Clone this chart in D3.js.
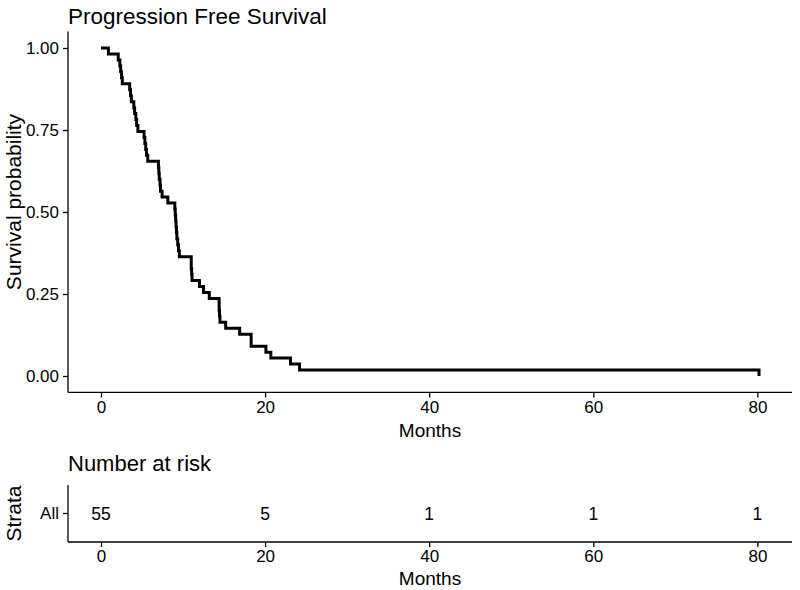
<!DOCTYPE html>
<html>
<head>
<meta charset="utf-8">
<script src="https://cdn.jsdelivr.net/npm/d3@7"></script>
<style>
  html, body { margin: 0; padding: 0; background: #fff; }
  svg { display: block; }
  text { font-family: "Liberation Sans", Arial, Helvetica, sans-serif; fill: #000; }
</style>
</head>
<body>
<svg id="chart" width="800" height="590"></svg>
<script>
// ---- data ----
const nSubjects = 55;
// event times (months); ties are repeated
const eventTimes = [
  0.9,
  2.1, 2.3, 2.4, 2.5, 2.6,
  3.5, 3.6, 3.7,
  4.0, 4.1, 4.25, 4.35, 4.5,
  5.25, 5.35, 5.45, 5.55, 5.7,
  7.0, 7.05, 7.1, 7.2, 7.25,
  7.45, 8.15,
  9.0, 9.05, 9.1, 9.15, 9.2, 9.25, 9.35, 9.45, 9.55,
  11.0, 11.0, 11.05, 11.1,
  12.0, 12.5, 13.2,
  14.4, 14.4, 14.45, 14.5,
  15.2, 16.9, 18.3, 18.3,
  20.1, 20.7, 23.1, 24.2,
  80.2
];
const xTicks = [0, 20, 40, 60, 80];
const yTicks = [0, 0.25, 0.5, 0.75, 1];
const yTickLabels = ["0.00", "0.25", "0.50", "0.75", "1.00"];
const riskTimes = [0, 20, 40, 60, 80];
const riskCounts = [55, 5, 1, 1, 1];
const strata = ["All"];

// ---- build KM step points ----
const grouped = d3.rollups(eventTimes, v => v.length, d => d).sort((a, b) => a[0] - b[0]);
let atRisk = nSubjects;
const km = [{t: 0, s: 1}];
grouped.forEach(([t, d]) => { atRisk -= d; km.push({t: t, s: atRisk / nSubjects}); });

const svg = d3.select("#chart");
const panelL = 68, panelR = 792;
const tickColor = "#111";

// ---- main panel ----
const x = d3.scaleLinear().domain([-4.02, 84.22]).range([panelL, panelR]);
const y = d3.scaleLinear().domain([-0.05, 1.05]).range([392.4, 31.6]);

svg.append("text").attr("x", panelL).attr("y", 24).attr("font-size", 22.5).text("Progression Free Survival");

const line = d3.line().x(d => x(d.t)).y(d => y(d.s)).curve(d3.curveStepAfter);
svg.append("path").datum(km).attr("d", line)
  .attr("fill", "none").attr("stroke", "#000").attr("stroke-width", 3)
  .attr("stroke-linejoin", "miter").attr("stroke-linecap", "butt");

// axes
const gx = svg.append("g").attr("transform", `translate(0,${y(-0.05)})`)
  .call(d3.axisBottom(x).tickValues(xTicks).tickSize(5).tickPadding(4).tickSizeOuter(0));
const gy = svg.append("g").attr("transform", `translate(${panelL},0)`)
  .call(d3.axisLeft(y).tickValues(yTicks).tickFormat((d, i) => yTickLabels[i]).tickSize(5).tickPadding(4).tickSizeOuter(0));
[gx, gy].forEach(g => {
  g.select(".domain").attr("stroke", "#000").attr("stroke-width", 1.3);
  g.selectAll(".tick line").attr("stroke", "#000").attr("stroke-width", 1.3);
  g.selectAll(".tick text").attr("font-size", 17).attr("fill", tickColor)
    .attr("font-family", '"Liberation Sans", Arial, sans-serif');
});
gx.select(".domain").attr("d", `M${panelL},0H${panelR}`);
gy.select(".domain").attr("d", `M0,${y(-0.05)}V${y(1.05)}`);

svg.append("text").attr("x", (panelL + panelR) / 2).attr("y", 437).attr("text-anchor", "middle")
  .attr("font-size", 19).text("Months");
svg.append("text").attr("transform", `translate(21,202) rotate(-90)`)
  .attr("text-anchor", "middle").attr("font-size", 21).text("Survival probability");

// ---- risk table ----
const tTop = 485, tBot = 542;
const yr = d3.scaleBand().domain(strata).range([tBot, tTop]);
svg.append("text").attr("x", panelL).attr("y", 471).attr("font-size", 22).text("Number at risk");

svg.selectAll("text.risk").data(riskTimes).enter().append("text").attr("class", "risk")
  .attr("x", d => x(d)).attr("y", yr("All") + yr.bandwidth() / 2).attr("dy", "0.36em")
  .attr("text-anchor", "middle").attr("font-size", 17.5).text((d, i) => riskCounts[i]);

const gx2 = svg.append("g").attr("transform", `translate(0,${tBot})`)
  .call(d3.axisBottom(x).tickValues(xTicks).tickSize(5).tickPadding(3).tickSizeOuter(0));
const gy2 = svg.append("g").attr("transform", `translate(${panelL},0)`)
  .call(d3.axisLeft(yr).tickSize(5).tickPadding(4).tickSizeOuter(0));
[gx2, gy2].forEach(g => {
  g.select(".domain").attr("stroke", "#000").attr("stroke-width", 1.3);
  g.selectAll(".tick line").attr("stroke", "#000").attr("stroke-width", 1.3);
  g.selectAll(".tick text").attr("font-size", 17).attr("fill", tickColor)
    .attr("font-family", '"Liberation Sans", Arial, sans-serif');
});
gx2.select(".domain").attr("d", `M${panelL},0H${panelR}`);
gy2.select(".domain").attr("d", `M0,${tBot}V${tTop}`);

svg.append("text").attr("x", (panelL + panelR) / 2).attr("y", 585).attr("text-anchor", "middle")
  .attr("font-size", 19).text("Months");
svg.append("text").attr("transform", `translate(21,${(tTop + tBot) / 2}) rotate(-90)`)
  .attr("text-anchor", "middle").attr("font-size", 21).text("Strata");
</script>
</body>
</html>
